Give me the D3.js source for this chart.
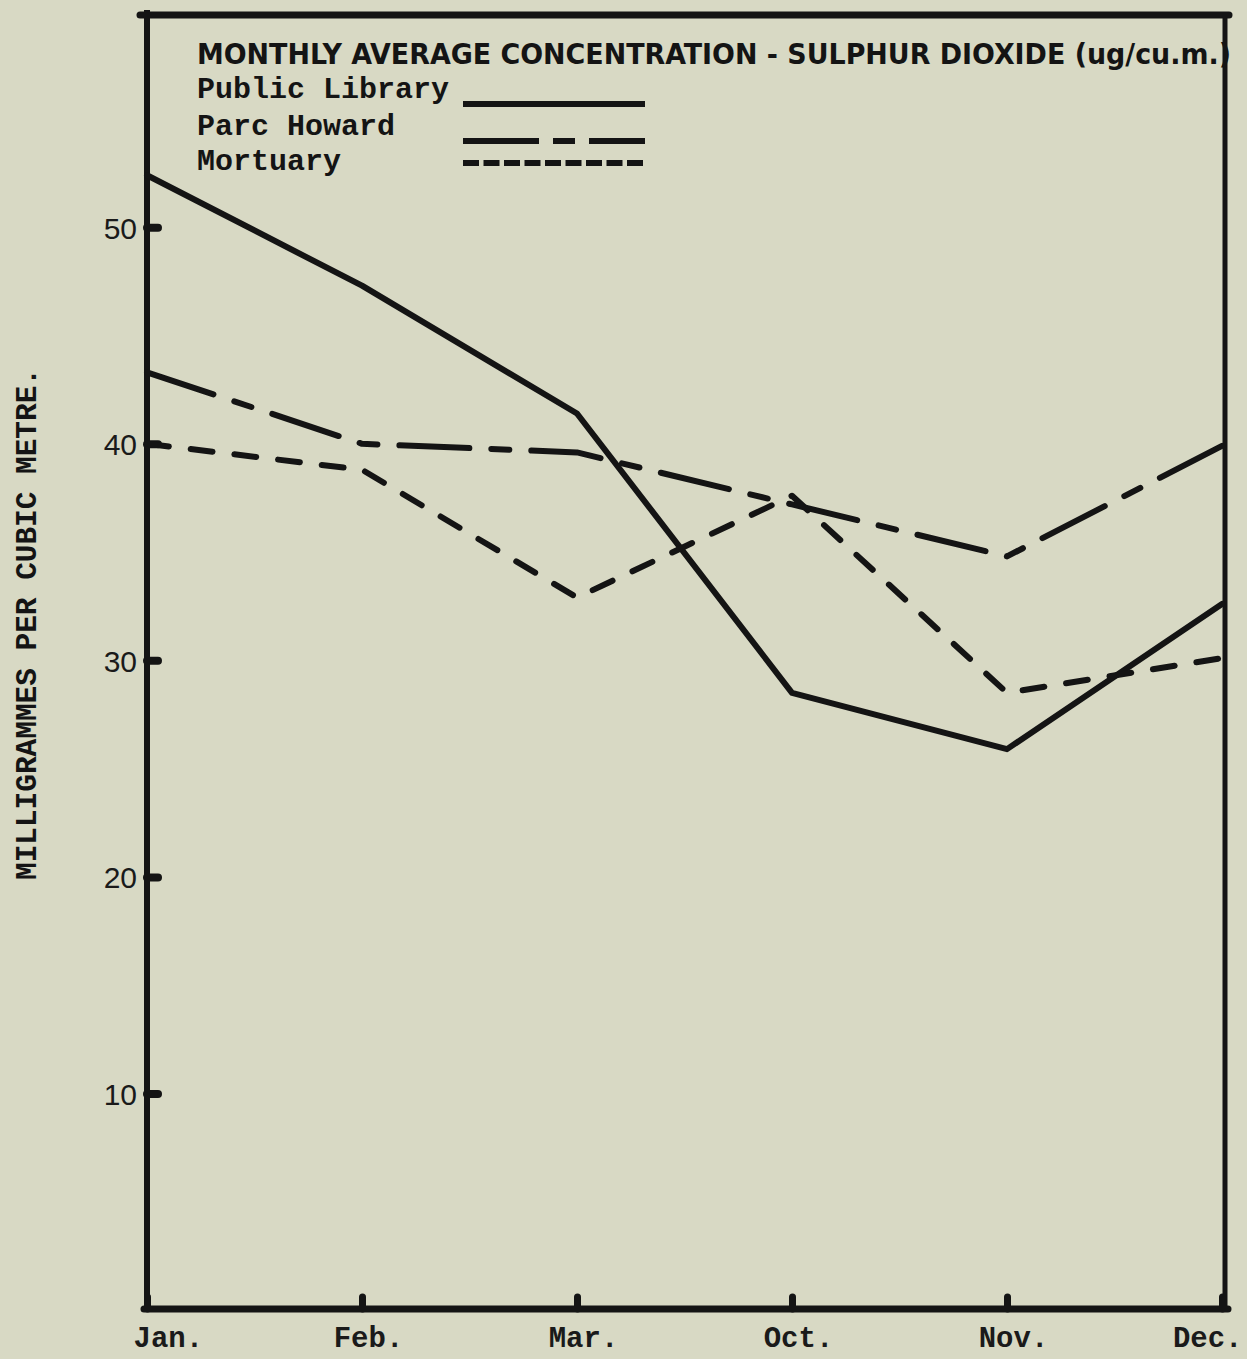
<!DOCTYPE html>
<html>
<head>
<meta charset="utf-8">
<script src="https://cdn.jsdelivr.net/npm/d3@7"></script>
<style>
  html, body { margin: 0; padding: 0; background: #d8d9c4; }
  svg { display: block; }
  .tick text { fill: #1a1a1a; }
</style>
</head>
<body>
<svg id="chart"></svg>
<script>
// months shown on the x axis
const months = ['Jan.', 'Feb.', 'Mar.', 'Oct.', 'Nov.', 'Dec.'];
// y tick values
const yTicks = [10, 20, 30, 40, 50];
// monthly averages
const publicLibrary = [52.4, 47.3, 41.4, 28.5, 25.9, 32.6];
const parcHoward = [43.3, 40.0, 39.6, 37.2, 34.8, 39.9];
const mortuary = [40.0, 38.8, 32.9, 37.6, 28.5, 30.1];
const seriesNames = ['Public Library', 'Parc Howard', 'Mortuary'];

const width = 1247, height = 1359;
const ink = '#141414';
const mono = '"Liberation Mono", "DejaVu Sans Mono", monospace';

const svg = d3.select('#chart').attr('width', width).attr('height', height);
svg.append('rect').attr('width', width).attr('height', height).attr('fill', '#d8d9c4');

const frame = {left: 147, right: 1225, top: 15, bottom: 1309};

const xScale = d3.scalePoint().domain(months).range([frame.left, 1222]);
const yScale = d3.scaleLinear().domain([0, 59.8]).range([1310, frame.top]);

// y axis: inward nubs + labels
const yAxis = d3.axisLeft(yScale).tickValues(yTicks).tickSizeInner(-11).tickSizeOuter(0).tickPadding(10);
const yAxisG = svg.append('g').attr('transform', `translate(${frame.left},0)`).call(yAxis);
yAxisG.select('.domain').remove();
yAxisG.selectAll('.tick line').attr('stroke', ink).attr('stroke-width', 8).attr('stroke-linecap', 'round');
yAxisG.selectAll('.tick text')
  .attr('font-family', '"Liberation Sans", Arial, sans-serif')
  .attr('font-size', 30)
  .attr('dy', '0.36em');

// x axis: upward nubs + labels
const xAxis = d3.axisBottom(xScale).tickSizeInner(-12).tickSizeOuter(0).tickPadding(17);
const xAxisG = svg.append('g').attr('transform', `translate(0,${frame.bottom})`).call(xAxis);
xAxisG.select('.domain').remove();
xAxisG.selectAll('.tick line').attr('stroke', ink).attr('stroke-width', 7).attr('stroke-linecap', 'round');
xAxisG.selectAll('.tick text')
  .attr('font-family', mono)
  .attr('font-weight', 'bold')
  .attr('font-size', 29)
  .attr('text-anchor', (d, i) => i === 0 ? 'start' : (i === months.length - 1 ? 'end' : 'middle'))
  .attr('dx', (d, i) => i === 0 ? -14 : (i === months.length - 1 ? 20 : 6));

// frame
svg.append('line').attr('x1', 140).attr('x2', 1229).attr('y1', frame.top).attr('y2', frame.top)
  .attr('stroke', ink).attr('stroke-width', 7).attr('stroke-linecap', 'round');
svg.append('line').attr('x1', frame.left).attr('x2', frame.left).attr('y1', 10).attr('y2', frame.bottom)
  .attr('stroke', ink).attr('stroke-width', 6);
svg.append('line').attr('x1', frame.right).attr('x2', frame.right).attr('y1', frame.top).attr('y2', frame.bottom)
  .attr('stroke', ink).attr('stroke-width', 5);
svg.append('line').attr('x1', frame.left - 3).attr('x2', frame.right + 3).attr('y1', frame.bottom).attr('y2', frame.bottom)
  .attr('stroke', ink).attr('stroke-width', 7).attr('stroke-linecap', 'round');

// series lines (round caps add ~3px at each dash end)
const dashes = ['none', '70,22,18,22', '22,22'];
const series = [publicLibrary, parcHoward, mortuary];
const line = d3.line().x((d, i) => xScale(months[i])).y(d => yScale(d));

svg.append('g').selectAll('.series')
  .data(series)
  .join('path')
  .attr('class', 'series')
  .attr('d', d => line(d))
  .attr('fill', 'none')
  .attr('stroke', ink)
  .attr('stroke-width', 6)
  .attr('stroke-linejoin', 'round')
  .attr('stroke-linecap', 'round')
  .attr('stroke-dasharray', (d, i) => dashes[i]);

// title + legend
svg.append('text')
  .attr('x', 197).attr('y', 64)
  .attr('font-family', '"DejaVu Sans Condensed", "DejaVu Sans", sans-serif')
  .attr('font-weight', 'bold')
  .attr('font-size', 28)
  .attr('fill', ink)
  .attr('textLength', 1034)
  .attr('lengthAdjust', 'spacingAndGlyphs')
  .text('MONTHLY AVERAGE CONCENTRATION - SULPHUR DIOXIDE (ug/cu.m.)');

const legendY = [98, 135, 170];
const legendLineY = [104, 141, 163];
const legendDashes = ['none', '76,14,22,14', '16,4.5'];
const legend = svg.append('g');
legend.selectAll('.legend-label')
  .data(seriesNames)
  .join('text')
  .attr('class', 'legend-label')
  .attr('x', 197)
  .attr('y', (d, i) => legendY[i])
  .attr('font-family', mono)
  .attr('font-weight', 'bold')
  .attr('font-size', 30)
  .attr('fill', ink)
  .text(d => d);
legend.selectAll('.legend-line')
  .data(seriesNames)
  .join('line')
  .attr('class', 'legend-line')
  .attr('x1', 463).attr('x2', 645)
  .attr('y1', (d, i) => legendLineY[i]).attr('y2', (d, i) => legendLineY[i])
  .attr('stroke', ink)
  .attr('stroke-width', 6)
  .attr('stroke-linecap', 'butt')
  .attr('stroke-dasharray', (d, i) => legendDashes[i]);

// y axis title
svg.append('text')
  .attr('transform', 'translate(36,624) rotate(-90)')
  .attr('text-anchor', 'middle')
  .attr('font-family', mono)
  .attr('font-weight', 'bold')
  .attr('font-size', 29)
  .attr('fill', ink)
  .attr('textLength', 512)
  .attr('lengthAdjust', 'spacingAndGlyphs')
  .text('MILLIGRAMMES PER CUBIC METRE.');
</script>
</body>
</html>
